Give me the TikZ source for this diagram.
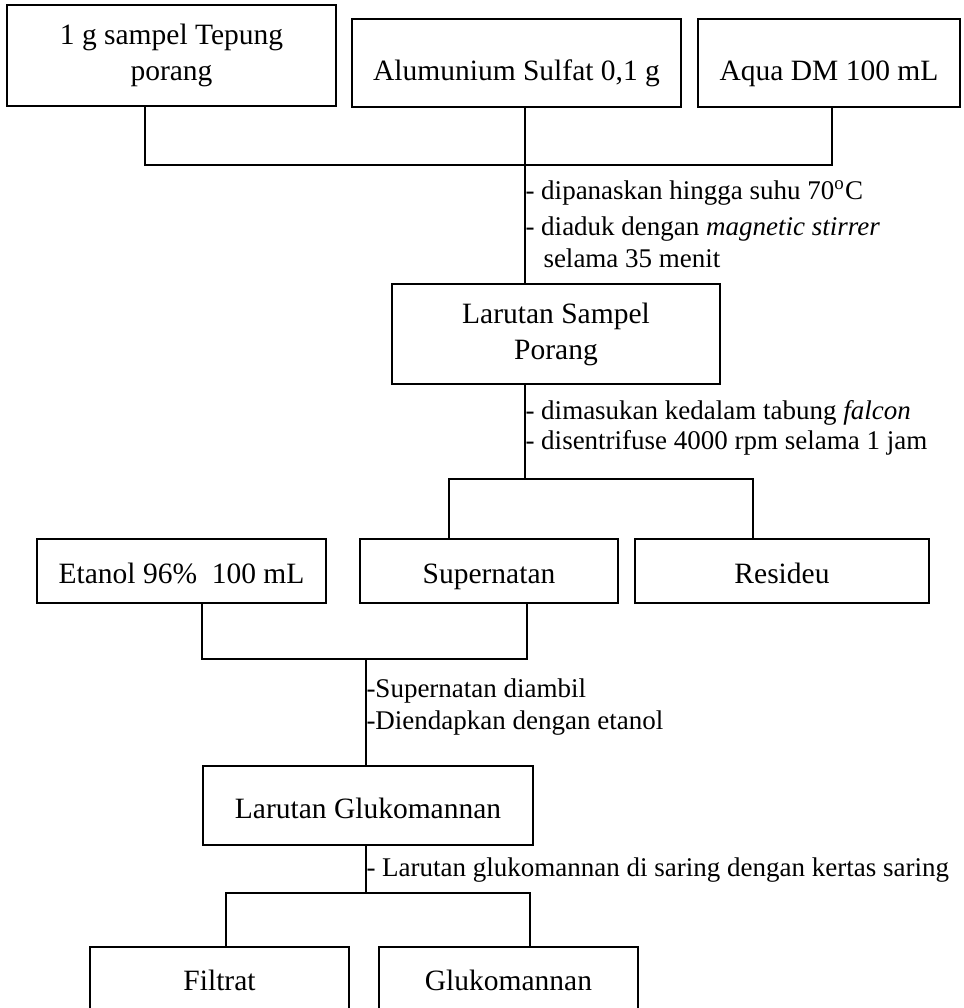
\documentclass[tikz,border=0pt]{standalone}
\usepackage{fontspec}
\setmainfont{Liberation Serif}
\begin{document}
\begin{tikzpicture}[x=0.4pt,y=-0.4pt,
    every node/.style={font=\fontsize{11.8}{14.4}\selectfont},
    box/.style={draw,line width=0.9pt,rectangle,align=center,inner sep=0pt},
    onerow/.style={box,text height=10pt,text depth=0pt},
    tworow/.style={box,execute at begin node={\rule{0pt}{12pt}}},
    note/.style={anchor=west,inner sep=0pt,font=\fontsize{10.8}{12}\selectfont},
    link/.style={line width=0.5pt}]
  \useasboundingbox (0,0) rectangle (964,1008);
  % boxes
  \draw
    (171.5,55.5) node[tworow,minimum width=329*0.4pt,minimum height=101*0.4pt] (sampel){1 g sampel Tepung\\porang}
    (516.5,63) node[onerow,text height=14pt,minimum width=329*0.4pt,minimum height=88*0.4pt] (alum){Alumunium Sulfat 0,1 g}
    (829,63) node[onerow,text height=14pt,minimum width=262*0.4pt,minimum height=88*0.4pt] (aqua){Aqua DM 100 mL}
    (556,334) node[tworow,minimum width=328*0.4pt,minimum height=100*0.4pt] (larsampel){Larutan Sampel\\Porang}
    (181.5,571) node[onerow,minimum width=289*0.4pt,minimum height=64*0.4pt] (etanol){Etanol 96\%\ \ 100 mL}
    (489,571) node[onerow,minimum width=258*0.4pt,minimum height=64*0.4pt] (super){Supernatan}
    (782,571) node[onerow,minimum width=294*0.4pt,minimum height=64*0.4pt] (resid){Resideu}
    (368,805.5) node[onerow,minimum width=330*0.4pt,minimum height=79*0.4pt] (largluko){Larutan Glukomannan}
    (219.5,980) node[onerow,text height=8pt,minimum width=259*0.4pt,minimum height=66*0.4pt] (filtrat){Filtrat}
    (508.5,980) node[onerow,text height=8pt,minimum width=259*0.4pt,minimum height=66*0.4pt] (gluko){Glukomannan};
  % junctions
  \coordinate (bar1l) at (145,165);
  \coordinate (bar1m) at (525,165);
  \coordinate (bar1r) at (832,165);
  \coordinate (bar2l) at (449,479);
  \coordinate (bar2m) at (525,479);
  \coordinate (bar2r) at (753,479);
  \coordinate (bar3l) at (202,659);
  \coordinate (bar3m) at (366,659);
  \coordinate (bar3r) at (527,659);
  \coordinate (bar4l) at (226,893);
  \coordinate (bar4m) at (366,893);
  \coordinate (bar4r) at (530,893);
  \begin{scope}[link]
    \draw (sampel.south -| bar1l) -- (bar1l) -- (bar1r) -- (aqua.south -| bar1r);
    \draw (alum.south -| bar1m) -- (larsampel.north -| bar1m);
    \draw (larsampel.south -| bar2m) -- (bar2m);
    \draw (super.north -| bar2l) -- (bar2l) -- (bar2r) -- (resid.north -| bar2r);
    \draw (etanol.south -| bar3l) -- (bar3l) -- (bar3r) -- (super.south -| bar3r);
    \draw (bar3m) -- (largluko.north -| bar3m);
    \draw (largluko.south -| bar4m) -- (bar4m);
    \draw (filtrat.north -| bar4l) -- (bar4l) -- (bar4r) -- (gluko.north -| bar4r);
  \end{scope}
  % step notes
  \node[note] (n1) at (525,193) {- dipanaskan hingga suhu 70\textsuperscript{o}C};
  \node[note] (n2) at (525,229) {- diaduk dengan \textit{magnetic stirrer}};
  \node[note] (n3) at (543,258) {selama 35 menit};
  \node[note] (n4) at (525,413) {- dimasukan kedalam tabung \textit{falcon}};
  \node[note] (n5) at (525,443) {- disentrifuse 4000 rpm selama 1 jam};
  \node[note] (n6) at (366,691) {-Supernatan diambil};
  \node[note] (n7) at (366,723) {-Diendapkan dengan etanol};
  \node[note] (n8) at (366,870) {- Larutan glukomannan di saring dengan kertas saring};
\end{tikzpicture}
\end{document}
